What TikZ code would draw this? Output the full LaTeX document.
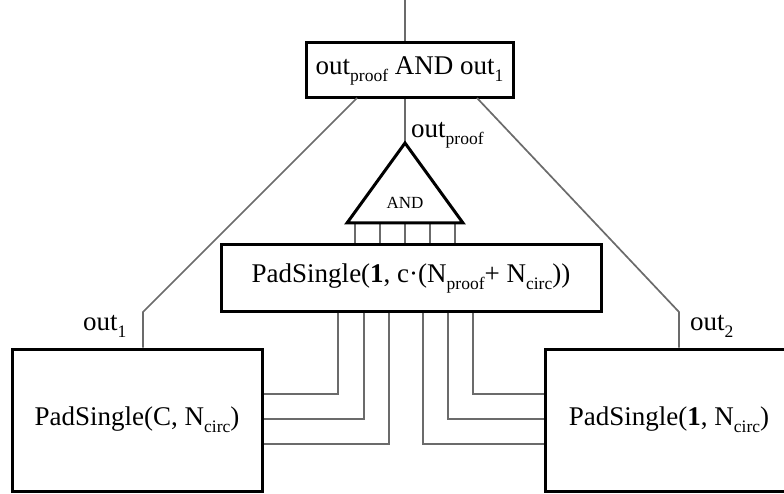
\documentclass[tikz,border=0pt]{standalone}
\usepackage{fontspec}
\setmainfont{Liberation Serif}
\newcommand{\mysb}[1]{\raisebox{-7pt}{\fontsize{17.5}{18}\selectfont #1}}
\begin{document}
\begin{tikzpicture}[x=1pt,y=-1pt,
  box/.style={draw=black,line width=3pt,rectangle,inner sep=0pt,font=\fontsize{27}{30}\selectfont},
  wire/.style={draw=black!58,line width=1.7pt},
  tri/.style={draw=black,line width=3pt,line join=miter},
  lbl/.style={inner sep=0pt,font=\fontsize{27}{30}\selectfont}]
\useasboundingbox (0,0) rectangle (784,494);
\clip (0,0) rectangle (784,494);
% boxes
\node[box,minimum width=207pt,minimum height=55pt] (topbox) at (409.5,70.5) {out\mysb{proof} AND out\mysb{1}};
\node[box,minimum width=380pt,minimum height=66pt] (midbox) at (411,278) {PadSingle(\textbf{1}, c·(N\mysb{proof}+ N\mysb{circ}))};
\node[box,minimum width=250pt,minimum height=142pt] (leftbox) at (137,420) {PadSingle(C, N\mysb{circ})};
\node[box,minimum width=248pt,minimum height=142pt] (rightbox) at (669,420) {PadSingle(\textbf{1}, N\mysb{circ})};
% triangle
\coordinate (apex) at (405,143);
\coordinate (tl) at (347,223);
\coordinate (tr) at (463,223);
\node[inner sep=0pt,font=\fontsize{17}{18}\selectfont] (andtxt) at (405,203) {AND};
% top wire
\coordinate (topin) at (405,0);
\draw[wire] (topin) -- (topin |- topbox.north);
\draw[wire] (topin |- topbox.south) -- (apex);
% side wires
\coordinate (ls) at (357,98);
\coordinate (lk) at (143,312);
\coordinate (rs) at (477,98);
\coordinate (rk) at (679,312);
\draw[wire] (ls) -- (lk) -- (lk |- leftbox.north);
\draw[wire] (rs) -- (rk) -- (rk |- rightbox.north);
% ticks between triangle and middle box
\foreach \xx/\nm in {355/a,380/b,405/c,430/d,455/e}{
  \coordinate (tick\nm) at (\xx,223);
  \draw[wire] (tick\nm) -- (tick\nm |- midbox.north);
}
% lower wires
\foreach \xx/\yy/\nm in {338/394/a,364/419/b,389/444/c}{
  \coordinate (lw\nm) at (\xx,\yy);
  \draw[wire] (lw\nm |- midbox.south) -- (lw\nm) -- (lw\nm -| leftbox.east);
}
\foreach \xx/\yy/\nm in {473/394/a,448/419/b,423/444/c}{
  \coordinate (rw\nm) at (\xx,\yy);
  \draw[wire] (rw\nm |- midbox.south) -- (rw\nm) -- (rw\nm -| rightbox.west);
}
\draw[tri] (apex) -- (tl) -- (tr) -- cycle;
% labels
\node[lbl,anchor=base west] (lproof) at (411,138) {out\mysb{proof}};
\node[lbl,anchor=base west] (lout1) at (83,330) {out\mysb{1}};
\node[lbl,anchor=base west] (lout2) at (690,330) {out\mysb{2}};
\end{tikzpicture}
\end{document}
